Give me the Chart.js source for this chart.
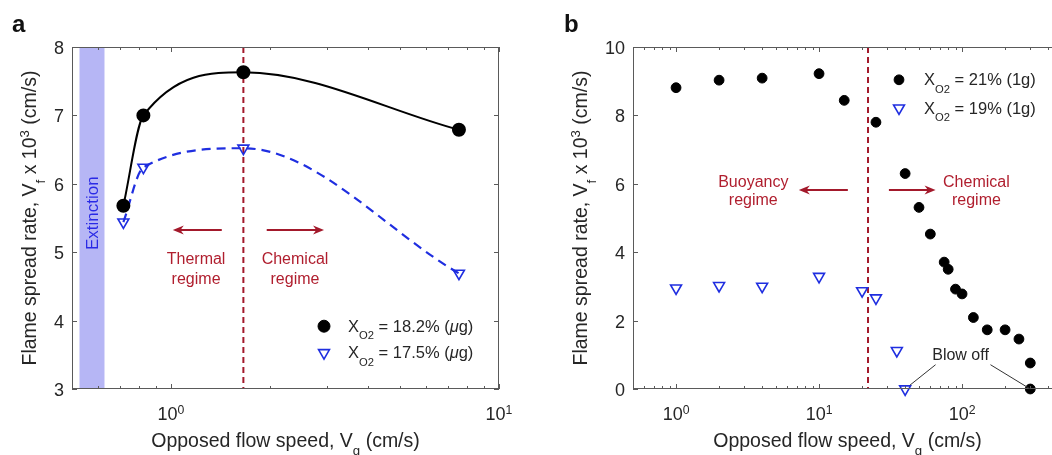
<!DOCTYPE html>
<html>
<head>
<meta charset="utf-8">
<script src="https://cdn.jsdelivr.net/npm/chart.js@4.4.1/dist/chart.umd.min.js"></script>
<style>
  html, body { margin: 0; padding: 0; background: #fff; overflow: hidden; }
  body { width: 1052px; height: 455px; position: relative; }
  canvas { position: absolute; top: 0; }
  #chartA { left: 0; }
  #chartB { left: 526px; }
</style>
</head>
<body>
<canvas id="chartA" width="526" height="455"></canvas>
<canvas id="chartB" width="560" height="455"></canvas>
<script>
// panel a: microgravity runs
const speedA = [0.717, 0.825, 1.664, 7.55];
const rateA182 = [5.68, 7.00, 7.63, 6.79];
const rateA175 = [5.44, 6.24, 6.52, 4.69];
const extinctionA = [0.527, 0.628];
const boundaryA = 1.664;
const yTicksA = [3, 4, 5, 6, 7, 8];
const xMajorA = [1, 10];
const xMinorA = [0.6, 0.7, 0.8, 0.9, 2, 3, 4, 5, 6, 7, 8, 9];

// panel b: normal gravity runs
const speedB21 = [1, 2, 4, 10, 15, 25, 40, 50, 60, 75, 80, 90, 100, 120, 150, 200, 250, 300, 300];
const rateB21 = [8.81, 9.03, 9.09, 9.22, 8.44, 7.80, 6.30, 5.31, 4.53, 3.71, 3.50, 2.92, 2.78, 2.09, 1.73, 1.73, 1.46, 0.76, 0];
const speedB19 = [1, 2, 4, 10, 20, 25, 35, 40];
const rateB19 = [2.95, 3.02, 3.00, 3.29, 2.87, 2.66, 1.12, 0];
const boundaryB = 22;
const yTicksB = [0, 2, 4, 6, 8, 10];
const xMajorB = [1, 10, 100];
const xMinorB = [0.6, 0.7, 0.8, 0.9, 2, 3, 4, 5, 6, 7, 8, 9, 20, 30, 40, 50, 60, 70, 80, 90, 200, 300, 400];

const FONT = '"Liberation Sans", Arial, sans-serif';
const INK = '#262626';
const AXIS = '#5a5a5a';
const DARKRED = '#a3192b';
const REDTEXT = '#b01e2e';
const BLUE = '#1f2ee0';

const xTitle = [['Opposed flow speed, V'], ['g', 'sub'], [' (cm/s)']];
const yTitle = [['Flame spread rate, V'], ['f', 'sub'], [' x 10'], ['3', 'sup'], [' (cm/s)']];

function setPartFont(ctx, p, size) {
  const m = p[1] || '';
  const s = (m === 'sub' || m === 'sup') ? size * 0.68 : size;
  ctx.font = (m === 'it' ? 'italic ' : '') + s + 'px ' + FONT;
}

function drawRich(ctx, parts, x, y, size, align) {
  let w = 0;
  parts.forEach(p => { setPartFont(ctx, p, size); w += ctx.measureText(p[0]).width; });
  let cx = align === 'center' ? x - w / 2 : align === 'right' ? x - w : x;
  ctx.textAlign = 'left';
  ctx.textBaseline = 'alphabetic';
  parts.forEach(p => {
    setPartFont(ctx, p, size);
    const dy = p[1] === 'sub' ? size * 0.45 : p[1] === 'sup' ? -size * 0.34 : 0;
    ctx.fillText(p[0], cx, y + dy);
    cx += ctx.measureText(p[0]).width;
  });
}

function arrow(ctx, x1, y1, x2, y2) {
  const ang = Math.atan2(y2 - y1, x2 - x1);
  const len = 11, half = 4.5;
  ctx.beginPath();
  ctx.moveTo(x1, y1);
  ctx.lineTo(x2 - Math.cos(ang) * 6, y2 - Math.sin(ang) * 6);
  ctx.stroke();
  ctx.save();
  ctx.translate(x2, y2);
  ctx.rotate(ang);
  ctx.beginPath();
  ctx.moveTo(0, 0);
  ctx.lineTo(-len, -half);
  ctx.lineTo(-len * 0.7, 0);
  ctx.lineTo(-len, half);
  ctx.closePath();
  ctx.fill();
  ctx.restore();
}

function decor(cfg) {
  return {
    id: 'decor',
    beforeDatasetsDraw(chart) {
      const { ctx, chartArea: a, scales: { x, y } } = chart;
      ctx.save();
      if (cfg.band) {
        const x0 = x.getPixelForValue(cfg.band[0]);
        const x1 = x.getPixelForValue(cfg.band[1]);
        ctx.fillStyle = '#b6b6f5';
        ctx.fillRect(x0, a.top, x1 - x0, a.bottom - a.top);
        ctx.save();
        ctx.translate((x0 + x1) / 2 + 1, y.getPixelForValue(cfg.bandTextY));
        ctx.rotate(-Math.PI / 2);
        ctx.fillStyle = '#2a2ae6';
        ctx.font = '17px ' + FONT;
        ctx.textAlign = 'center';
        ctx.textBaseline = 'middle';
        ctx.fillText('Extinction', 0, 0);
        ctx.restore();
      }
      const bx = x.getPixelForValue(cfg.boundary);
      ctx.strokeStyle = DARKRED;
      ctx.lineWidth = 2;
      ctx.setLineDash([6, 4]);
      ctx.beginPath();
      ctx.moveTo(bx, a.top);
      ctx.lineTo(bx, a.bottom);
      ctx.stroke();
      ctx.restore();
    },
    afterDraw(chart) {
      const { ctx, chartArea: a, scales: { x, y } } = chart;
      ctx.save();
      // axes box and inward ticks
      ctx.strokeStyle = AXIS;
      ctx.lineWidth = 1;
      ctx.strokeRect(a.left + 0.5, a.top + 0.5, a.right - a.left - 1, a.bottom - a.top - 1);
      const xt = (v, l) => {
        const px = Math.round(x.getPixelForValue(v)) + 0.5;
        ctx.beginPath();
        ctx.moveTo(px, a.bottom); ctx.lineTo(px, a.bottom - l);
        ctx.moveTo(px, a.top); ctx.lineTo(px, a.top + l);
        ctx.stroke();
      };
      cfg.xMajor.forEach(v => xt(v, 5));
      cfg.xMinor.forEach(v => xt(v, 3));
      cfg.yTicks.forEach(v => {
        const py = Math.round(y.getPixelForValue(v)) + 0.5;
        ctx.beginPath();
        ctx.moveTo(a.left, py); ctx.lineTo(a.left + 5, py);
        ctx.moveTo(a.right, py); ctx.lineTo(a.right - 5, py);
        ctx.stroke();
      });
      // tick labels
      ctx.fillStyle = INK;
      cfg.xMajor.forEach(v => {
        drawRich(ctx, [['10'], [String(Math.round(Math.log10(v))), 'sup']],
          x.getPixelForValue(v), a.bottom + 31, 18, 'center');
      });
      cfg.yTicks.forEach(v => {
        drawRich(ctx, [[String(v)]], a.left - 8, y.getPixelForValue(v) + 7, 18, 'right');
      });
      // axis titles
      drawRich(ctx, xTitle, (a.left + a.right) / 2, a.bottom + 57.5, 19.5, 'center');
      ctx.save();
      ctx.translate(a.left - cfg.yTitleGap, (a.top + a.bottom) / 2);
      ctx.rotate(-Math.PI / 2);
      drawRich(ctx, yTitle, 0, 0, 19.5, 'center');
      ctx.restore();
      // panel letter
      ctx.font = 'bold 24px ' + FONT;
      ctx.fillStyle = '#111';
      ctx.textAlign = 'left';
      ctx.textBaseline = 'alphabetic';
      ctx.fillText(cfg.letter, cfg.letterX, 31.7);
      // regime annotations
      ctx.strokeStyle = DARKRED;
      ctx.fillStyle = DARKRED;
      ctx.lineWidth = 2;
      cfg.arrows.forEach(r => arrow(ctx, x.getPixelForValue(r[0]), y.getPixelForValue(r[1]),
        x.getPixelForValue(r[2]), y.getPixelForValue(r[3])));
      ctx.fillStyle = REDTEXT;
      cfg.notes.forEach(n => drawRich(ctx, [[n[0]]], x.getPixelForValue(n[1]), y.getPixelForValue(n[2]), 16, 'center'));
      // blow off callout
      if (cfg.blow) {
        const b = cfg.blow;
        ctx.fillStyle = INK;
        drawRich(ctx, [['Blow off']], x.getPixelForValue(b.text[0]), y.getPixelForValue(b.text[1]), 16, 'center');
        ctx.strokeStyle = '#333';
        ctx.lineWidth = 1;
        b.leaders.forEach(l => {
          const x0 = x.getPixelForValue(l[0]), y0 = y.getPixelForValue(l[1]);
          let x1 = x.getPixelForValue(l[2]), y1 = y.getPixelForValue(l[3]);
          const d = Math.hypot(x1 - x0, y1 - y0);
          x1 -= (x1 - x0) / d * l[4];
          y1 -= (y1 - y0) / d * l[4];
          ctx.beginPath();
          ctx.moveTo(x0, y0);
          ctx.lineTo(x1, y1);
          ctx.stroke();
        });
      }
      // legend
      const lg = cfg.legend;
      lg.rows.forEach(r => {
        const mx = a.left + lg.mx, by = a.top + r.by;
        ctx.save();
        ctx.strokeStyle = r.color;
        ctx.fillStyle = r.fill;
        ctx.lineWidth = r.style.borderWidth;
        Chart.helpers.drawPoint(ctx, r.style, mx, by - 5.5);
        ctx.restore();
        ctx.fillStyle = INK;
        drawRich(ctx, r.label, a.left + lg.tx, by, 16.5, 'left');
      });
      ctx.restore();
    }
  };
}

function pts(xs, ys) {
  return xs.map((v, i) => ({ x: v, y: ys[i] }));
}

function baseOptions(pad, xmin, xmax, ymin, ymax) {
  return {
    responsive: false,
    animation: false,
    events: [],
    layout: { padding: pad },
    plugins: { legend: { display: false }, tooltip: { enabled: false } },
    scales: {
      x: { type: 'logarithmic', min: xmin, max: xmax, display: false },
      y: { type: 'linear', min: ymin, max: ymax, display: false }
    }
  };
}

const dotA = { pointStyle: 'circle', radius: 6, borderWidth: 1 };
const triA = { pointStyle: 'triangle', rotation: 180, radius: 6.3, borderWidth: 1.6 };
const dotB = { pointStyle: 'circle', radius: 4.9, borderWidth: 1 };
const triB = { pointStyle: 'triangle', rotation: 180, radius: 6.3, borderWidth: 1.6 };

new Chart(document.getElementById('chartA'), {
  type: 'scatter',
  data: {
    datasets: [
      {
        data: pts(speedA, rateA182),
        showLine: true,
        cubicInterpolationMode: 'monotone',
        borderColor: '#000',
        borderWidth: 2,
        pointBackgroundColor: '#000',
        pointBorderColor: '#000',
        pointRadius: dotA.radius,
        pointStyle: 'circle',
        clip: false
      },
      {
        data: pts(speedA, rateA175),
        showLine: true,
        cubicInterpolationMode: 'monotone',
        borderColor: BLUE,
        borderWidth: 2.2,
        borderDash: [9, 6],
        pointBackgroundColor: 'rgba(0,0,0,0)',
        pointBorderColor: BLUE,
        pointBorderWidth: triA.borderWidth,
        pointRadius: triA.radius,
        pointStyle: 'triangle',
        pointRotation: 180,
        clip: false
      }
    ]
  },
  options: baseOptions({ left: 72, right: 27, top: 47, bottom: 66 }, 0.5, 10, 3, 8),
  plugins: [decor({
    letter: 'a', letterX: 12,
    band: extinctionA, bandTextY: 5.57,
    boundary: boundaryA,
    xMajor: xMajorA, xMinor: xMinorA, yTicks: yTicksA,
    yTitleGap: 36,
    arrows: [[1.43, 5.325, 1.014, 5.325], [1.96, 5.325, 2.93, 5.325]],
    notes: [['Thermal', 1.194, 4.823], ['regime', 1.194, 4.535], ['Chemical', 2.39, 4.823], ['regime', 2.39, 4.535]],
    legend: {
      mx: 252, tx: 276,
      rows: [
        { by: 284.7, color: '#000', fill: '#000', style: dotA,
          label: [['X'], ['O2', 'sub'], [' = 18.2% ('], ['\u03bc', 'it'], ['g)']] },
        { by: 311.3, color: BLUE, fill: 'rgba(0,0,0,0)', style: triA,
          label: [['X'], ['O2', 'sub'], [' = 17.5% ('], ['\u03bc', 'it'], ['g)']] }
      ]
    }
  })]
});

new Chart(document.getElementById('chartB'), {
  type: 'scatter',
  data: {
    datasets: [
      {
        data: pts(speedB21, rateB21),
        pointBackgroundColor: '#000',
        pointBorderColor: '#000',
        pointRadius: dotB.radius,
        pointStyle: 'circle',
        clip: false
      },
      {
        data: pts(speedB19, rateB19),
        pointBackgroundColor: 'rgba(0,0,0,0)',
        pointBorderColor: BLUE,
        pointBorderWidth: triB.borderWidth,
        pointRadius: triB.radius,
        pointStyle: 'triangle',
        pointRotation: 180,
        clip: false
      }
    ]
  },
  options: baseOptions({ left: 107, right: 24, top: 47, bottom: 66 }, 0.5, 500, 0, 10),
  plugins: [decor({
    letter: 'b', letterX: 38,
    boundary: boundaryB,
    xMajor: xMajorB, xMinor: xMinorB, yTicks: yTicksB,
    yTitleGap: 46,
    arrows: [[15.9, 5.82, 7.22, 5.82], [30.8, 5.82, 65.3, 5.82]],
    notes: [['Buoyancy', 3.47, 5.91], ['regime', 3.47, 5.38], ['Chemical', 126, 5.91], ['regime', 126, 5.38]],
    blow: {
      text: [97.6, 0.835],
      leaders: [[65.3, 0.71, 40, 0, 6], [158, 0.71, 300, 0, 0]]
    },
    legend: {
      mx: 266, tx: 291,
      rows: [
        { by: 38.3, color: '#000', fill: '#000', style: dotB,
          label: [['X'], ['O2', 'sub'], [' = 21% (1g)']] },
        { by: 66.6, color: BLUE, fill: 'rgba(0,0,0,0)', style: triB,
          label: [['X'], ['O2', 'sub'], [' = 19% (1g)']] }
      ]
    }
  })]
});
</script>
</body>
</html>
